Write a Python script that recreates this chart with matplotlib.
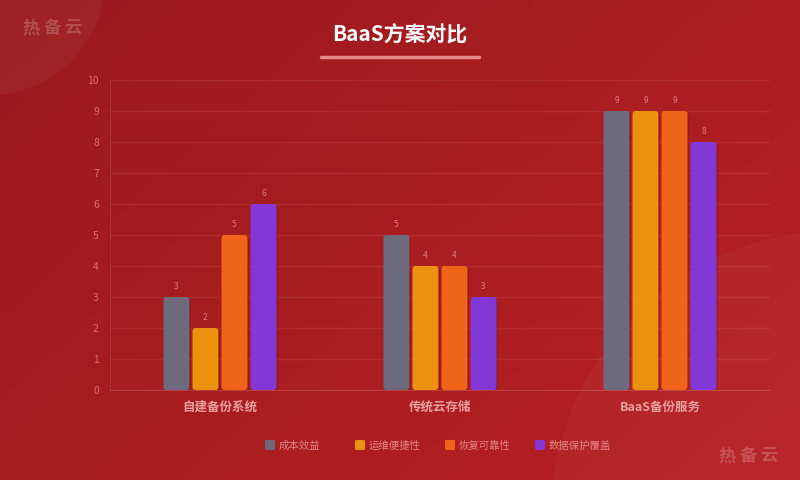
import numpy as np
import matplotlib
matplotlib.use("Agg")
import matplotlib.pyplot as plt
from matplotlib.patches import FancyBboxPatch, Circle, Rectangle

plt.rcParams['font.family'] = ['Noto Sans CJK SC', 'DejaVu Sans']

categories = ['自建备份系统', '传统云存储', 'BaaS备份服务']
series_names = ['成本效益', '运维便捷性', '恢复可靠性', '数据保护覆盖']
cost = [3, 5, 9]
ops = [2, 4, 9]
reliab = [5, 4, 9]
coverage = [6, 3, 8]
series_values = [cost, ops, reliab, coverage]
colors = ['#6c6a7c', '#ec9110', '#ef6419', '#8337d7']
yticks = list(range(0, 11))
title = 'BaaS方案对比'
watermark = '热备云'

W, H = 800, 480
fig = plt.figure(figsize=(8, 4.8), dpi=100)

# background
bg = fig.add_axes([0, 0, 1, 1], zorder=-10)
bg.set_xlim(0, W); bg.set_ylim(H, 0); bg.axis('off')
xx, yy = np.meshgrid(np.linspace(0, 1, 200), np.linspace(0, 1, 120))
t = (xx * 0.6 + yy * 0.4)
c0 = np.array([0x9a, 0x1a, 0x1d]) / 255
c1 = np.array([0xb8, 0x20, 0x23]) / 255
img = c0[None, None, :] * (1 - t[..., None]) + c1[None, None, :] * t[..., None]
bg.imshow(img, extent=[0, W, H, 0], aspect='auto', interpolation='bilinear')
bg.add_patch(Circle((-10, -20), 115, color='white', alpha=0.04, lw=0))
bg.add_patch(Circle((840, 520), 290, color='white', alpha=0.035, lw=0))
for cx, cy in [(31, 28), (727, 456)]:
    for i, ch in enumerate(watermark):
        bg.text(cx + i * 21, cy, ch, ha='center', va='center', fontsize=12.5,
                fontweight='bold', color='white', alpha=0.2)
bg.text(400, 35, title, ha='center', va='center', fontsize=15, fontweight='bold', color='white')
bg.plot([321, 479], [57, 57], color='#e48a8a', lw=2.5, solid_capstyle='round')

ax = fig.add_axes([110 / W, 1 - 390 / H, 660 / W, 310 / H])
ax.set_facecolor('none')
ax.set_xlim(-0.5, 2.5)
ax.set_ylim(0, 10)
ax.set_yticks(yticks)
ax.set_yticklabels([str(v) for v in yticks])
for y in yticks:
    ax.axhline(y, color='#ffffff', alpha=0.07, lw=1, zorder=0)
for s in ['top', 'right']:
    ax.spines[s].set_visible(False)
ax.spines['left'].set_color((1, 1, 1, 0.1))
ax.spines['bottom'].set_color((1, 1, 1, 0.15))
ax.tick_params(axis='y', length=0, colors='#d96f6f', labelsize=7.5, pad=8)
ax.tick_params(axis='x', length=0, pad=8)
x = np.arange(len(categories))
ax.set_xticks(x)
ax.set_xticklabels(categories, fontsize=9, fontweight='bold', color='#eaa0a0')

bw = 0.118
offsets = [-0.198, -0.066, 0.066, 0.198]
r = 0.014
asp = (3 / 31) / r
for vals, col, off in zip(series_values, colors, offsets):
    for xi, v in zip(x, vals):
        x0 = xi + off - bw / 2
        sh = FancyBboxPatch((x0 + 0.006, -0.08), bw, v, boxstyle=f'round,pad=0,rounding_size={r}',
                            mutation_aspect=asp, facecolor='black', alpha=0.15, lw=0, zorder=2)
        ax.add_patch(sh)
        p = FancyBboxPatch((x0, 0), bw, v, boxstyle=f'round,pad=0,rounding_size={r}',
                           mutation_aspect=asp, facecolor=col, edgecolor='none', zorder=3)
        ax.add_patch(p)
        ax.text(xi + off, v + 0.2, str(v), ha='center', va='bottom', fontsize=6,
                color='#e07a7a', zorder=4)

# legend (manual, fixed item spacing)
for i, (name, col) in enumerate(zip(series_names, colors)):
    lx = 265 + i * 90
    bg.add_patch(FancyBboxPatch((lx, 440), 10, 10, boxstyle='round,pad=0,rounding_size=1.5',
                                facecolor=col, edgecolor='none'))
    bg.text(lx + 14, 446, name, ha='left', va='center', fontsize=7.5, color='#e48585')

fig.savefig('out.png', dpi=100)
